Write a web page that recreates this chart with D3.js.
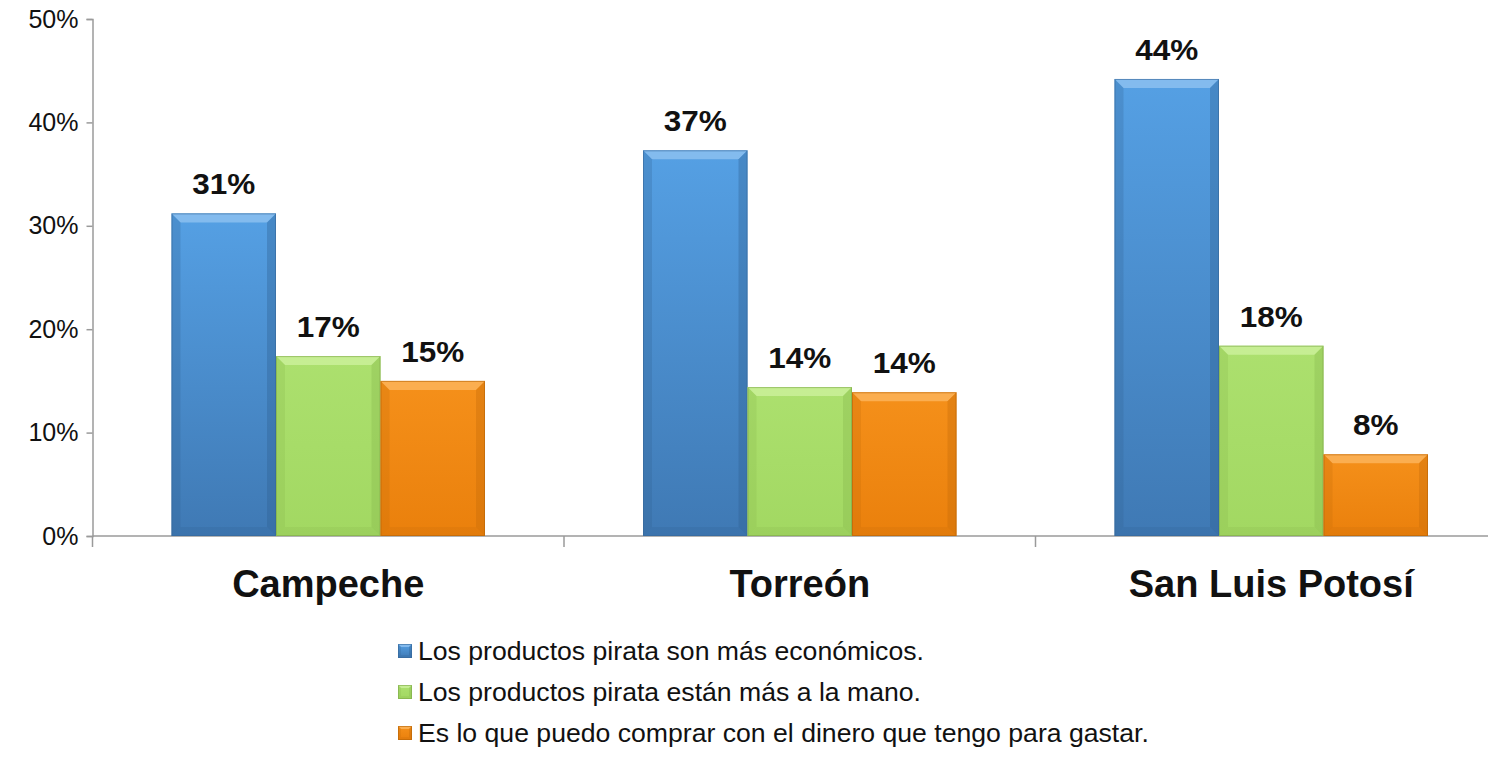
<!DOCTYPE html>
<html>
<head>
<meta charset="utf-8">
<script src="https://cdn.jsdelivr.net/npm/d3@7/dist/d3.min.js"></script>
<style>
  html, body { margin: 0; padding: 0; background: #fff; }
  svg { display: block; }
</style>
</head>
<body>
<svg id="chart" width="1488" height="766"></svg>
<script>
// Reasons for buying pirated goods, by city (share of respondents)
const cities = ["Campeche", "Torreón", "San Luis Potosí"];
const seriesNames = [
  "Los productos pirata son más económicos.",
  "Los productos pirata están más a la mano.",
  "Es lo que puedo comprar con el dinero que tengo para gastar."
];
const economicos = [31.2, 37.3, 44.2];
const aLaMano = [17.4, 14.4, 18.4];
const dinero = [15.0, 13.9, 7.9];
const yTicks = [0, 10, 20, 30, 40, 50];

const seriesValues = [economicos, aLaMano, dinero];
const palette = [
  { top: "#55a0e4", bottom: "#3f79b4", light: "#8cc0f0", dark: "#2f5f90", edge: "#37689a" },
  { top: "#ace06e", bottom: "#a2d862", light: "#caf09a", dark: "#86b64c", edge: "#7fa84a" },
  { top: "#f5901a", bottom: "#ea800c", light: "#fbb45a", dark: "#c46a08", edge: "#b86406" }
];
const FONT = "'Liberation Sans', Arial, sans-serif";

const svg = d3.select("#chart");
const margin = { left: 92.5, top: 19, bottom: 536 };
const catWidth = 471.5;

const x = d3.scaleBand()
  .domain(cities)
  .range([margin.left, margin.left + catWidth * cities.length])
  .paddingInner(0).paddingOuter(0);

const groupPad = (catWidth - 313.5) / 2;
const xs = d3.scaleBand()
  .domain(d3.range(seriesNames.length))
  .range([groupPad, catWidth - groupPad])
  .padding(0);

const y = d3.scaleLinear().domain([0, 50]).range([margin.bottom, margin.top]);

const defs = svg.append("defs");
palette.forEach((p, i) => {
  const g = defs.append("linearGradient")
    .attr("id", "grad" + i).attr("x1", 0).attr("y1", 0).attr("x2", 0).attr("y2", 1);
  g.append("stop").attr("offset", "0%").attr("stop-color", p.top);
  g.append("stop").attr("offset", "100%").attr("stop-color", p.bottom);
});

// Y axis
const yAxis = svg.append("g")
  .attr("transform", `translate(${margin.left},0)`)
  .call(d3.axisLeft(y).tickValues(yTicks).tickSize(6).tickPadding(8)
    .tickFormat(d => d + "%"));
yAxis.select(".domain").attr("stroke", "#9a9a9a").attr("stroke-width", 1.5);
yAxis.selectAll(".tick line").attr("stroke", "#9a9a9a").attr("stroke-width", 1.5);
yAxis.selectAll(".tick text")
  .attr("font-family", FONT)
  .attr("font-size", 25).attr("fill", "#111");

// X baseline and category separators
const xAxisG = svg.append("g");
xAxisG.append("line")
  .attr("x1", margin.left).attr("x2", 1488)
  .attr("y1", y(0)).attr("y2", y(0))
  .attr("stroke", "#9a9a9a").attr("stroke-width", 1.5);
const boundaries = cities.map(c => x(c)).concat([x(cities[cities.length - 1]) + x.bandwidth()]);
xAxisG.selectAll("line.sep").data(boundaries).enter().append("line")
  .attr("class", "sep")
  .attr("x1", d => d).attr("x2", d => d)
  .attr("y1", y(0)).attr("y2", y(0) + 11)
  .attr("stroke", "#9a9a9a").attr("stroke-width", 1.5);
xAxisG.selectAll("text.cat").data(cities).enter().append("text")
  .attr("class", "cat")
  .attr("x", d => x(d) + x.bandwidth() / 2)
  .attr("y", 597)
  .attr("text-anchor", "middle")
  .attr("font-family", FONT)
  .attr("font-weight", "bold").attr("font-size", 38).attr("fill", "#111")
  .text(d => d);

// Bevelled bar drawing
function bevelBar(g, x0, y0, w, h, p, gradId, b) {
  b = Math.min(b, h / 2, w / 2);
  g.append("rect").attr("x", x0).attr("y", y0).attr("width", w).attr("height", h)
    .attr("fill", `url(#${gradId})`);
  const x1 = x0 + w, y1 = y0 + h;
  g.append("polygon")
    .attr("points", [[x0, y0], [x1, y0], [x1 - b, y0 + b], [x0 + b, y0 + b]].join(" "))
    .attr("fill", p.light).attr("opacity", 0.85);
  g.append("polygon")
    .attr("points", [[x0, y0], [x0 + b, y0 + b], [x0 + b, y1 - b], [x0, y1]].join(" "))
    .attr("fill", p.dark).attr("opacity", 0.25);
  g.append("polygon")
    .attr("points", [[x1, y0], [x1 - b, y0 + b], [x1 - b, y1 - b], [x1, y1]].join(" "))
    .attr("fill", p.dark).attr("opacity", 0.35);
  g.append("polygon")
    .attr("points", [[x0, y1], [x0 + b, y1 - b], [x1 - b, y1 - b], [x1, y1]].join(" "))
    .attr("fill", p.dark).attr("opacity", 0.2);
  g.append("rect").attr("x", x0 + 0.5).attr("y", y0 + 0.5).attr("width", w - 1).attr("height", h - 1)
    .attr("fill", "none").attr("stroke", p.edge).attr("stroke-width", 1).attr("opacity", 0.6);
}

const fmt = d3.format(".0f");
const barsG = svg.append("g");
seriesValues.forEach((vals, si) => {
  vals.forEach((v, ci) => {
    const bx = x(cities[ci]) + xs(si);
    const by = y(v);
    const bw = xs.bandwidth();
    const bh = y(0) - y(v);
    const g = barsG.append("g").attr("class", "bar");
    bevelBar(g, bx, by, bw, bh, palette[si], "grad" + si, 9);
    barsG.append("text")
      .attr("transform", `translate(${bx + bw / 2},${by - 19}) scale(1.05,1)`)
      .attr("text-anchor", "middle")
      .attr("font-family", FONT)
      .attr("font-weight", "bold").attr("font-size", 30).attr("fill", "#111")
      .text(fmt(v) + "%");
  });
});

// Legend
const legend = svg.append("g").attr("transform", "translate(398,651)");
seriesNames.forEach((name, i) => {
  const row = legend.append("g").attr("transform", `translate(0,${i * 41})`);
  bevelBar(row, 0, -7, 14, 14, palette[i], "grad" + i, 3);
  row.append("text")
    .attr("transform", "translate(20,9) scale(1.065,1)")
    .attr("font-family", FONT)
    .attr("font-size", 25).attr("fill", "#111")
    .text(name);
});
</script>
</body>
</html>
